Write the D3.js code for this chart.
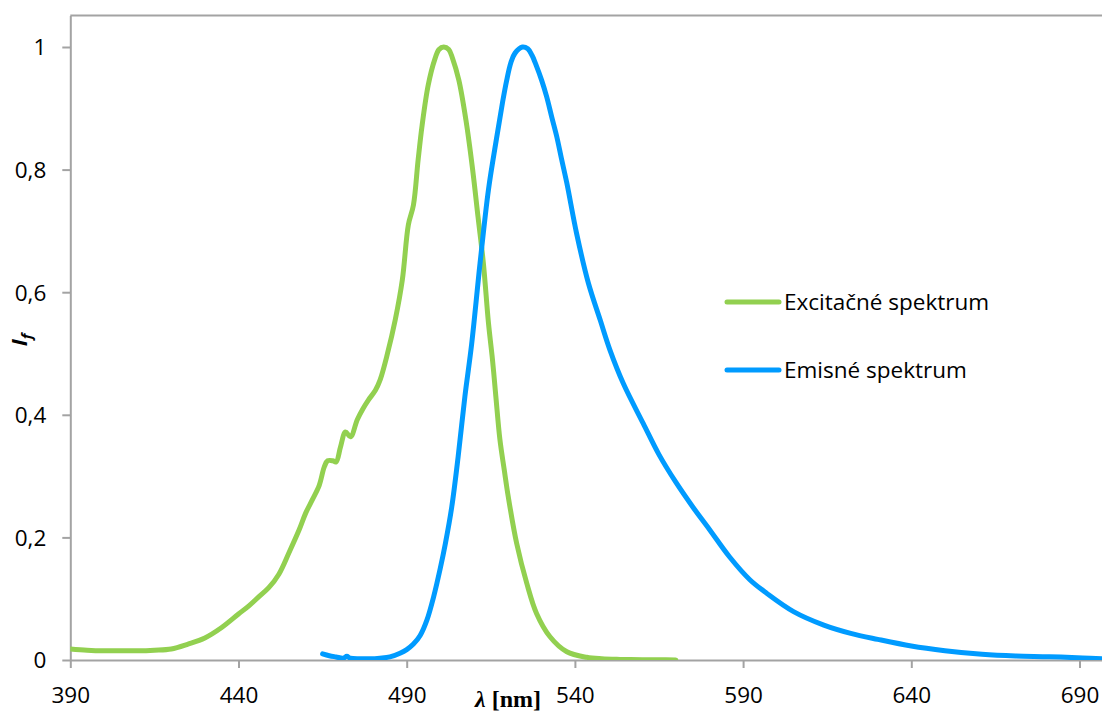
<!DOCTYPE html>
<html>
<head>
<meta charset="utf-8">
<script src="https://cdn.jsdelivr.net/npm/d3@7"></script>
<style>
  html, body { margin: 0; padding: 0; background: #fff; }
  svg { display: block; }
</style>
</head>
<body>
<svg id="chart" width="1102" height="713"></svg>
<script>
// ---- data ----
const seriesNames = ["Excitačné spektrum", "Emisné spektrum"];

const excitationWavelength = [390, 395, 400, 405, 410, 415, 420, 425, 430, 435, 440, 443, 446, 449, 452, 455, 458, 460, 462, 464, 465.5, 466.5, 468, 469, 470.3, 471.8, 473.3, 475.3, 477, 478.6, 480.7, 482.1, 484.2, 486.6, 488.7, 490.5, 492, 493.4, 494.6, 496.4, 498.3, 499.6, 501, 502.5, 503.6, 505.5, 507.6, 509.6, 511.2, 512.8, 514.3, 515.5, 516.5, 517.7, 519, 520.2, 522.7, 525.7, 528.6, 532.6, 537.6, 543.5, 548, 553.4, 560, 565, 570];
const excitationIntensity = [0.018, 0.016, 0.015, 0.015, 0.015, 0.016, 0.018, 0.026, 0.036, 0.053, 0.075, 0.088, 0.103, 0.118, 0.140, 0.175, 0.212, 0.24, 0.262, 0.285, 0.315, 0.325, 0.325, 0.323, 0.347, 0.372, 0.364, 0.392, 0.41, 0.424, 0.44, 0.457, 0.498, 0.555, 0.62, 0.71, 0.742, 0.816, 0.873, 0.938, 0.979, 0.996, 1.0, 0.996, 0.982, 0.946, 0.881, 0.8, 0.723, 0.647, 0.55, 0.49, 0.43, 0.36, 0.31, 0.266, 0.19, 0.125, 0.076, 0.038, 0.0135, 0.0044, 0.002, 0.001, 0.0005, 0.0003, 0.0002];

const emissionWavelength = [465, 467, 469, 471.2, 472.2, 473.2, 476, 479, 482, 485, 488, 490, 492, 494, 496, 498, 500, 501.5, 503.4, 505.3, 507.3, 509.3, 511.8, 514.3, 516.8, 518.5, 519.7, 521, 522.2, 524.4, 526, 527.2, 528.5, 530.1, 531.6, 533.1, 534.6, 536, 537.6, 540.5, 544, 547.5, 550.4, 554.4, 560.3, 565, 570, 575, 580, 586, 592, 597, 605, 614, 622, 630, 640, 650, 661, 671, 681, 691, 697];
const emissionIntensity = [0.01, 0.007, 0.005, 0.003, 0.006, 0.003, 0.002, 0.002, 0.003, 0.005, 0.011, 0.017, 0.026, 0.04, 0.065, 0.103, 0.15, 0.19, 0.25, 0.332, 0.43, 0.515, 0.647, 0.767, 0.854, 0.91, 0.945, 0.975, 0.99, 1.0, 0.997, 0.987, 0.97, 0.946, 0.919, 0.886, 0.854, 0.818, 0.778, 0.696, 0.615, 0.555, 0.506, 0.451, 0.386, 0.335, 0.29, 0.25, 0.213, 0.168, 0.131, 0.109, 0.079, 0.057, 0.0435, 0.0337, 0.0228, 0.0152, 0.0093, 0.0065, 0.0054, 0.0033, 0.002];

const xTicks = [390, 440, 490, 540, 590, 640, 690];
const yTicks = [0, 0.2, 0.4, 0.6, 0.8, 1];
const xTitleSymbol = "λ";
const xTitleUnit = " [nm]";
const yTitle = "I";
const yTitleSub = "f";

// ---- layout ----
const svg = d3.select("#chart");
const left = 70.3, bottom = 660, pxPerNm = 3.364, pxPerUnit = 613;
const xMaxNm = 700, yMax = 1.0515;
const x = d3.scaleLinear().domain([390, xMaxNm]).range([left, left + (xMaxNm - 390) * pxPerNm]);
const y = d3.scaleLinear().domain([0, yMax]).range([bottom, bottom - yMax * pxPerUnit]);

const axisColor = "#a3a3a3";
const fontFam = "'Open Sans', 'DejaVu Sans', sans-serif";
const labelSize = 22.5;

// plot area border (top)
svg.append("line")
  .attr("x1", x(390)).attr("x2", x(xMaxNm))
  .attr("y1", y(yMax)).attr("y2", y(yMax))
  .attr("stroke", axisColor).attr("stroke-width", 2);

// clip
svg.append("clipPath").attr("id", "clip").append("rect")
  .attr("x", x(390)).attr("y", y(yMax)).attr("width", x(xMaxNm) - x(390)).attr("height", bottom - y(yMax));

// axes
const xAxis = svg.append("g").attr("transform", `translate(0,${bottom})`)
  .call(d3.axisBottom(x).tickValues(xTicks).tickSize(8).tickSizeOuter(0).tickFormat(d3.format("d")));
const yAxis = svg.append("g").attr("transform", `translate(${left},0)`)
  .call(d3.axisLeft(y).tickValues(yTicks).tickSize(8).tickSizeOuter(0)
    .tickFormat(d => String(d).replace(".", ",")));

[xAxis, yAxis].forEach(g => {
  g.select(".domain").attr("stroke", axisColor).attr("stroke-width", 2);
  g.selectAll(".tick line").attr("stroke", axisColor).attr("stroke-width", 2);
  g.selectAll(".tick text").attr("fill", "#000").attr("font-family", fontFam).attr("font-size", labelSize);
});
xAxis.selectAll(".tick text").attr("dy", null).attr("y", 43);
yAxis.selectAll(".tick text").attr("x", -24).attr("dy", "0.35em");

// lines
const lineGen = d3.line().x(d => x(d[0])).y(d => y(d[1])).curve(d3.curveCatmullRom.alpha(0.5));
const series = [
  { name: seriesNames[0], xs: excitationWavelength, ys: excitationIntensity, color: "#92d050" },
  { name: seriesNames[1], xs: emissionWavelength, ys: emissionIntensity, color: "#009bff" }
];
const plot = svg.append("g").attr("clip-path", "url(#clip)");
series.forEach(s => {
  plot.append("path")
    .datum(s.xs.map((v, i) => [v, s.ys[i]]))
    .attr("fill", "none")
    .attr("stroke", s.color)
    .attr("stroke-width", 5)
    .attr("stroke-linecap", "round")
    .attr("stroke-linejoin", "round")
    .attr("d", lineGen);
});

// legend
const legend = svg.append("g");
const legendY = [302, 370];
series.forEach((s, i) => {
  legend.append("line")
    .attr("x1", 727).attr("x2", 779)
    .attr("y1", legendY[i]).attr("y2", legendY[i])
    .attr("stroke", s.color).attr("stroke-width", 5).attr("stroke-linecap", "round");
  legend.append("text")
    .attr("x", 784).attr("y", legendY[i]).attr("dy", "0.35em")
    .attr("font-family", fontFam).attr("font-size", labelSize).attr("fill", "#000")
    .text(s.name);
});

// axis titles
const xt = svg.append("text")
  .attr("x", 508).attr("y", 707)
  .attr("text-anchor", "middle")
  .attr("font-family", "'Liberation Serif', 'DejaVu Serif', serif")
  .attr("font-weight", "bold").attr("font-size", 24);
xt.append("tspan").attr("font-style", "italic").text(xTitleSymbol);
xt.append("tspan").text(xTitleUnit);

const yt = svg.append("text")
  .attr("transform", "translate(27,340) rotate(-90)")
  .attr("text-anchor", "middle")
  .attr("font-family", fontFam)
  .attr("font-weight", "bold").attr("font-style", "italic").attr("font-size", 22);
yt.append("tspan").text(yTitle);
yt.append("tspan").attr("dy", 5).attr("font-size", 15).text(yTitleSub);
</script>
</body>
</html>
